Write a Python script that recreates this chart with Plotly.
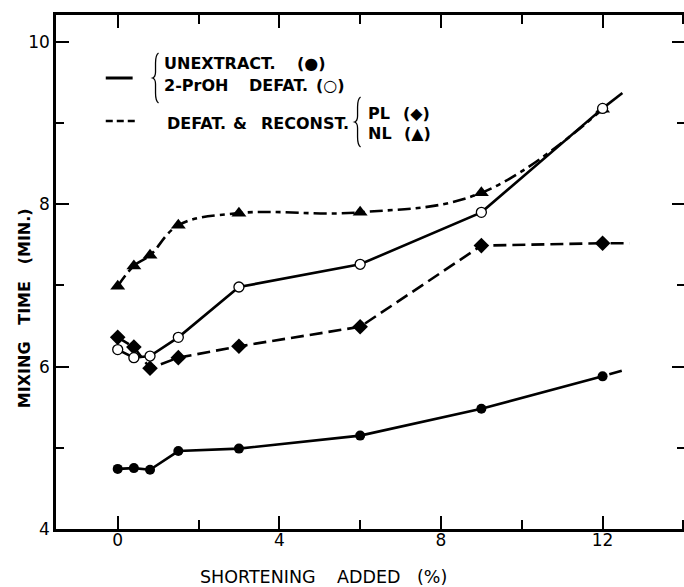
import plotly.graph_objects as go

# ---------------- data ----------------
shortening = [0, 0.4, 0.8, 1.5, 3, 6, 9, 12]
unextracted = [4.74, 4.75, 4.73, 4.96, 4.99, 5.15, 5.48, 5.88]
prop_defat = [6.21, 6.11, 6.13, 6.36, 6.98, 7.26, 7.90, 9.18]
pl_reconst = [6.36, 6.24, 5.98, 6.11, 6.25, 6.49, 7.49, 7.52]
nl_reconst = [6.99, 7.24, 7.37, 7.74, 7.89, 7.90, 8.14, 9.17]

# line extensions drawn past the last point
unext_ext_x, unext_ext_y = [12, 12.68], [5.88, 5.98]
prop_ext_x, prop_ext_y = [12, 12.49], [9.18, 9.37]
pl_ext_x, pl_ext_y = [12, 12.67], [7.52, 7.52]

x_ticks = [0, 4, 8, 12]
y_ticks = [4, 6, 8, 10]

# ---------------- layout geometry ----------------
# figure is slightly wider than the window so the right frame line falls
# just outside the visible area (as in the reference), only its ticks show
W, H = 690, 587
L, R, T, B = 56, 688, 15, 529
X0 = (L - 118) / 40.6
X1 = (R - 118) / 40.6
Y0 = 4
Y1 = 4 + (B - T) / 81.2


def px(x):
    return (x - L) / (R - L)


def py(y):
    return (B - y) / (B - T)


FONT = "DejaVu Sans"
LW = 2.6

fig = go.Figure()

# unextracted (filled circles, solid)
fig.add_trace(go.Scatter(x=shortening, y=unextracted, mode="lines+markers",
                         line=dict(color="black", width=LW),
                         marker=dict(symbol="circle", size=10, color="black")))
fig.add_trace(go.Scatter(x=unext_ext_x, y=unext_ext_y, mode="lines",
                         line=dict(color="black", width=LW, dash="0px,7px,13px,100px")))

# 2-PrOH defatted (open circles, solid)
fig.add_trace(go.Scatter(x=prop_ext_x, y=prop_ext_y, mode="lines",
                         line=dict(color="black", width=LW)))
fig.add_trace(go.Scatter(x=shortening, y=prop_defat, mode="lines",
                         line=dict(color="black", width=LW)))

# PL reconstituted (diamonds, dashed)
fig.add_trace(go.Scatter(x=shortening, y=pl_reconst, mode="lines+markers",
                         line=dict(color="black", width=LW, dash="13px,6px"),
                         marker=dict(symbol="diamond", size=12, color="black")))
fig.add_trace(go.Scatter(x=pl_ext_x, y=pl_ext_y, mode="lines",
                         line=dict(color="black", width=LW, dash="0px,8px,13px,6px,13px,100px")))

# NL reconstituted (triangles, dash-dot, smoothed)
fig.add_trace(go.Scatter(x=shortening, y=nl_reconst, mode="lines",
                         line=dict(color="black", width=LW, dash="13px,5px,5px,5px",
                                   shape="spline", smoothing=1.1)))
fig.add_trace(go.Scatter(x=shortening, y=nl_reconst, mode="markers",
                         marker=dict(symbol="triangle-up", size=13, color="black")))

# open circles on top
fig.add_trace(go.Scatter(x=shortening, y=prop_defat, mode="markers",
                         marker=dict(symbol="circle", size=10, color="white",
                                     line=dict(color="black", width=1.3))))

# ---------------- legend drawn by hand ----------------
shapes = []
shapes.append(dict(type="line", xref="paper", yref="paper",
                   x0=px(106), x1=px(133), y0=py(78), y1=py(78),
                   line=dict(color="black", width=3)))
shapes.append(dict(type="line", xref="paper", yref="paper",
                   x0=px(106), x1=px(138), y0=py(121), y1=py(121),
                   line=dict(color="black", width=2.5, dash="7px,4px")))


def brace(xc, ytop, ybot):
    ym = (ytop + ybot) / 2
    pts = [
        f"M {px(xc + 3)} {py(ytop)}",
        f"Q {px(xc)} {py(ytop + 2)} {px(xc)} {py(ytop + 10)}",
        f"L {px(xc)} {py(ym - 6)}",
        f"Q {px(xc)} {py(ym - 1)} {px(xc - 3)} {py(ym)}",
        f"Q {px(xc)} {py(ym + 1)} {px(xc)} {py(ym + 6)}",
        f"L {px(xc)} {py(ybot - 10)}",
        f"Q {px(xc)} {py(ybot - 2)} {px(xc + 3)} {py(ybot)}",
    ]
    return dict(type="path", xref="paper", yref="paper", path=" ".join(pts),
                line=dict(color="black", width=1.3))


shapes.append(brace(156, 53, 103))
shapes.append(brace(359, 97, 147))

annotations = []


def text(s, x, y, size=16, anchor="left", weight="bold"):
    annotations.append(dict(text=s, x=px(x), y=py(y), xref="paper", yref="paper",
                            xanchor=anchor, yanchor="middle", showarrow=False,
                            font=dict(family=FONT, size=size, color="black",
                                      weight=weight)))


text("UNEXTRACT.", 163, 63)
text("(●)", 296, 63)
text("2-PrOH", 163, 86)
text("DEFAT.", 248, 86)
text("(○)", 315, 86)
text("DEFAT.", 166, 123)
text("&amp;", 232, 123)
text("RECONST.", 260, 123)
text("PL", 367, 113)
text("(◆)", 403, 113)
text("NL", 367, 134)
text("(▲)", 404, 134)

# axis titles
text("SHORTENING", 259, 577, size=17.5, anchor="center", weight="normal")
text("ADDED", 370, 577, size=17.5, anchor="center", weight="normal")
text("(%)", 434, 577, size=17.5, anchor="center", weight="normal")
annotations.append(dict(text="MIXING   TIME   (MIN.)", x=px(24), y=py(308),
                        xref="paper", yref="paper", xanchor="center", yanchor="middle",
                        textangle=-90, showarrow=False,
                        font=dict(family=FONT, size=16, color="black", weight="bold")))

axis_common = dict(showgrid=False, zeroline=False, showline=True, linecolor="black",
                   linewidth=2.5, mirror="ticks", ticks="inside", tickcolor="black",
                   tickwidth=1.5, ticklen=13,
                   tickfont=dict(family=FONT, size=17, color="black"))

fig.update_layout(
    width=W, height=H,
    margin=dict(l=L, r=W - R, t=T, b=H - B, pad=0),
    paper_bgcolor="white", plot_bgcolor="white",
    showlegend=False,
    xaxis=dict(range=[X0, X1], tickvals=x_ticks, ticktext=[str(v) for v in x_ticks],
               ticklabelstandoff=-6,
               minor=dict(dtick=2, tick0=0, ticks="inside", ticklen=9,
                          tickwidth=1.5, tickcolor="black"),
               **axis_common),
    yaxis=dict(range=[Y0, Y1], tickvals=y_ticks, ticktext=[str(v) for v in y_ticks],
               minor=dict(dtick=1, tick0=0, ticks="inside", ticklen=8,
                          tickwidth=1.5, tickcolor="black"),
               **axis_common),
    shapes=shapes,
    annotations=annotations,
)

fig.write_html("out.html", config={"displayModeBar": False},
               post_script="document.body.style.margin='0';document.body.style.overflow='hidden';")
